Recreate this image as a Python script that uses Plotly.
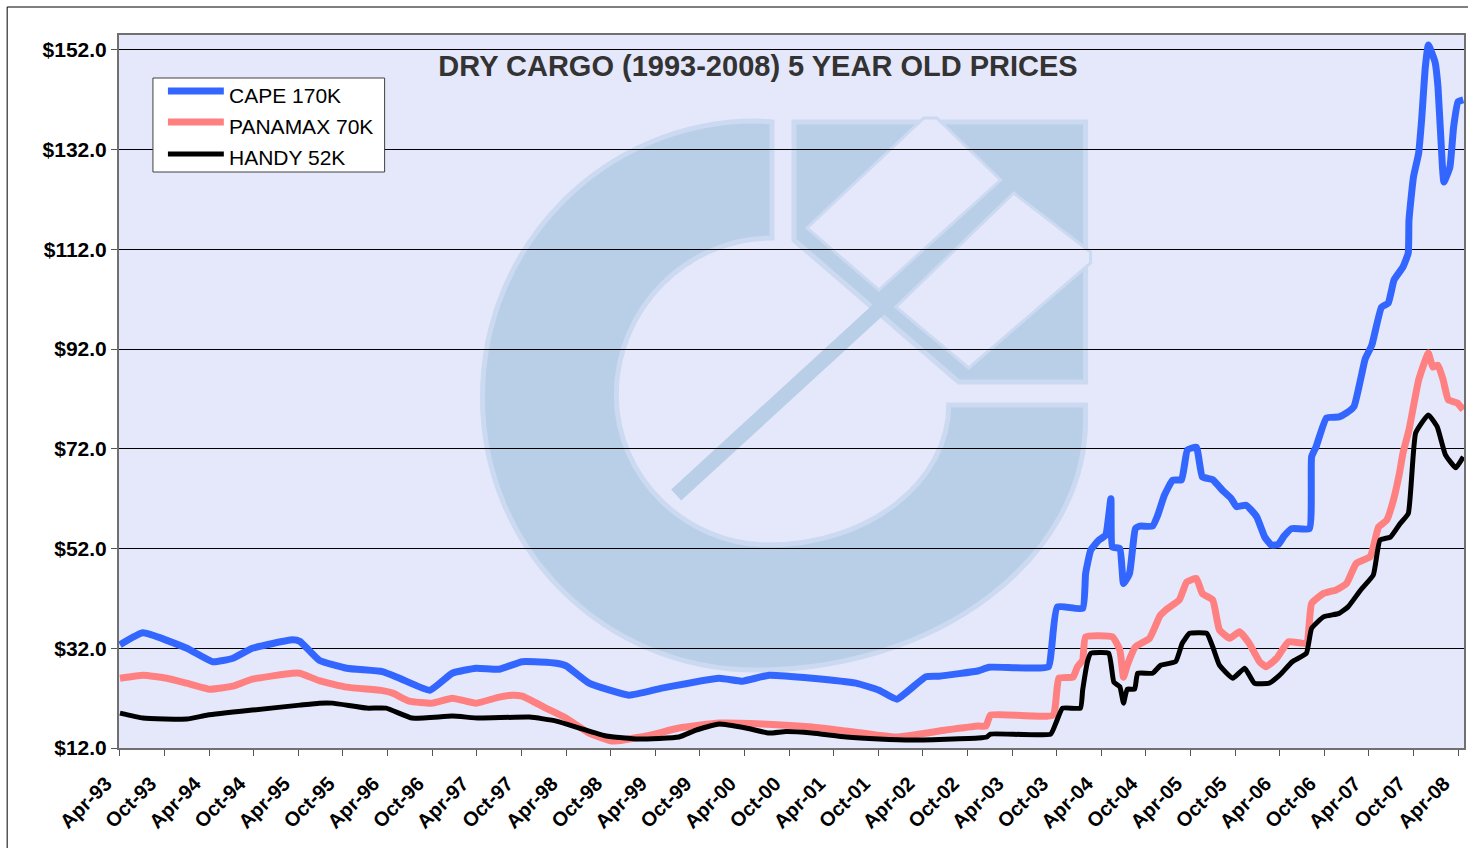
import plotly.graph_objects as go

# ---------------- DATA (months since Apr-93, price in $ million) ----------------
cape_months = [0, 3.1, 9.0, 12.5, 15.2, 17.8, 23.2, 24.2, 26.8, 30.5, 35.3, 37.6, 41.7, 44.7, 47.9,
               51.0, 54.1, 58.7, 60.0, 63.1, 68.5, 72.9, 80.6, 83.7, 87.3, 93.1, 99.0, 102.1, 104.5,
               108.4, 110.2, 115.5, 116.9, 124.9, 125.3, 126.1, 129.5, 129.9, 130.6, 131.7, 132.6,
               133.3, 133.5, 134.5, 135.0, 135.8, 136.2, 136.6, 137.2, 138.9, 139.6, 140.5, 141.6,
               142.8, 143.6, 144.8, 145.6, 147.0, 148.3, 149.5, 150.2, 151.5, 152.9, 154.0, 154.9,
               155.8, 156.6, 157.6, 160.0, 160.3, 160.9, 162.3, 164.0, 165.0, 166.0, 166.9, 167.5,
               168.4, 169.7, 170.6, 171.4, 172.6, 173.3, 173.4, 174.0, 174.7, 175.1, 175.6, 176.0,
               176.9, 177.3, 177.9, 178.1, 178.9, 179.4, 180.0, 180.7]
cape_prices = [32.7, 35.1, 32.0, 29.3, 30.0, 32.0, 33.7, 33.4, 29.6, 28.0, 27.3, 26.0, 23.6, 27.0, 28.0,
               27.8, 29.3, 29.0, 28.5, 25.0, 22.6, 24.0, 26.0, 25.4, 26.6, 26.0, 25.0, 23.6, 21.8,
               26.3, 26.4, 27.5, 28.2, 28.3, 31.7, 40.3, 40.0, 47.0, 51.7, 53.7, 54.7,
               62.0, 52.3, 52.0, 45.0, 47.0, 51.7, 56.0, 56.5, 56.5, 58.7, 62.7, 65.7,
               65.8, 71.8, 72.3, 66.4, 65.8, 63.7, 62.0, 60.4, 60.7, 58.4, 54.3, 52.7,
               52.8, 54.5, 56.0, 56.0, 70.4, 72.4, 78.2, 78.4, 79.2, 80.5, 86.0, 90.0,
               92.8, 100.4, 101.2, 105.9, 108.5, 111.3, 117.9, 126.5, 131.3, 138.0, 148.6, 153.0,
               149.6, 144.6, 128.5, 125.5, 128.5, 136.5, 141.6, 142.0]

panamax_months = [0, 3.1, 6.3, 9.0, 12.1, 15.2, 17.8, 23.2, 24.2, 26.8, 30.5, 35.3, 36.7, 38.9, 42.0,
                  44.7, 47.9, 51.0, 52.8, 54.1, 57.3, 60.0, 63.1, 66.2, 70.8, 75.2, 80.6, 86.4, 93.1,
                  97.7, 104.4, 111.1, 115.5, 116.5, 117.1, 125.5, 126.3, 128.2, 128.8, 129.5, 129.9,
                  133.5, 134.5, 135.0, 135.5, 136.6, 138.5, 139.9, 140.7, 142.5, 143.5, 144.8, 145.6,
                  147.0, 147.9, 149.3, 150.6, 151.9, 153.3, 154.2, 155.6, 157.2, 159.6, 160.3, 161.9,
                  163.6, 165.0, 166.3, 168.2, 169.3, 170.4, 171.3, 172.1, 172.6, 173.4, 174.7, 176.0,
                  176.6, 177.3, 178.0, 178.7, 179.9, 180.7]
panamax_prices = [26.0, 26.6, 26.0, 25.0, 23.8, 24.4, 25.8, 27.0, 27.0, 25.5, 24.2, 23.5, 23.0, 21.4, 21.0,
                  22.0, 21.0, 22.2, 22.6, 22.4, 20.0, 18.0, 15.0, 13.4, 14.4, 16.0, 17.0, 16.8, 16.2,
                  15.4, 14.2, 15.6, 16.4, 16.4, 18.6, 18.6, 26.0, 26.2, 28.3, 29.6, 34.3,
                  34.3, 31.7, 26.2, 28.6, 32.3, 34.0, 38.5, 39.7, 41.7, 45.3, 46.0, 43.0,
                  41.7, 35.7, 34.0, 35.3, 33.0, 29.3, 28.3, 30.0, 33.3, 33.0, 41.0, 43.0,
                  43.7, 45.0, 49.0, 50.4, 56.3, 57.7, 61.7, 67.0, 71.2, 75.8, 85.8, 91.2,
                  88.4, 88.8, 85.8, 81.8, 81.2, 79.8]

handy_months = [0, 3.1, 9.0, 11.8, 17.8, 24.2, 26.8, 28.6, 33.2, 35.8, 39.3, 44.7, 48.3, 55.1, 58.7,
                61.8, 65.4, 69.8, 75.2, 77.5, 80.6, 84.2, 87.3, 89.6, 93.1, 97.7, 102.1, 106.5, 115.5,
                116.6, 117.1, 125.2, 125.9, 126.8, 129.2, 129.5, 130.2, 130.6, 133.0, 133.7, 134.5,
                135.0, 135.5, 136.5, 136.9, 138.9, 140.0, 142.0, 142.9, 143.9, 146.2, 147.0, 147.9,
                149.7, 151.3, 152.6, 154.6, 156.0, 157.7, 159.6, 160.3, 161.9, 164.0, 165.2, 166.9,
                168.6, 169.5, 170.9, 172.2, 173.3, 174.3, 176.0, 177.2, 178.3, 179.7, 180.7]
handy_prices = [19.0, 18.0, 17.8, 18.6, 19.6, 20.6, 21.0, 21.0, 20.0, 20.0, 18.0, 18.4, 18.0, 18.2, 17.4,
                16.0, 14.4, 13.8, 14.2, 15.6, 16.8, 16.0, 15.0, 15.3, 15.0, 14.2, 13.8, 13.6, 14.0,
                14.2, 14.8, 14.8, 17.0, 20.0, 20.0, 23.6, 29.6, 31.0, 31.0, 25.2, 24.3,
                21.0, 23.8, 23.8, 27.0, 27.0, 28.6, 29.3, 33.0, 35.0, 35.0, 32.3, 28.6,
                26.0, 28.0, 25.0, 25.0, 26.6, 29.3, 31.0, 36.0, 38.3, 39.0, 40.3, 43.7,
                46.7, 53.7, 54.3, 57.0, 59.0, 75.2, 78.8, 76.4, 70.8, 68.2, 70.4]

series_names = ["CAPE 170K", "PANAMAX 70K", "HANDY 52K"]
series_colors = ["#3366FF", "#FF8080", "#000000"]

x_tick_months = list(range(0, 181, 6))
x_tick_labels = ["Apr-93", "Oct-93", "Apr-94", "Oct-94", "Apr-95", "Oct-95", "Apr-96", "Oct-96",
                 "Apr-97", "Oct-97", "Apr-98", "Oct-98", "Apr-99", "Oct-99", "Apr-00", "Oct-00",
                 "Apr-01", "Oct-01", "Apr-02", "Oct-02", "Apr-03", "Oct-03", "Apr-04", "Oct-04",
                 "Apr-05", "Oct-05", "Apr-06", "Oct-06", "Apr-07", "Oct-07", "Apr-08"]
y_ticks = [12, 32, 52, 72, 92, 112, 132, 152]
y_tick_labels = ["$12.0", "$32.0", "$52.0", "$72.0", "$92.0", "$112.0", "$132.0", "$152.0"]

title_text = "DRY CARGO (1993-2008) 5 YEAR OLD PRICES"

# ---------------- LAYOUT GEOMETRY (pixels) ----------------
W, H = 1468, 848
PL, PR, PT, PB = 119, 1466, 35, 748
PLOT_BG = "#E5E8FB"
LOGO = "#B8CFE7"
LOGO_EDGE = "#CBD9F1"
SANS = "Liberation Sans, Arial, sans-serif"

fig = go.Figure()

widths = [7, 7, 5]
for months, prices, name, color, w in zip(
        [cape_months, panamax_months, handy_months],
        [cape_prices, panamax_prices, handy_prices],
        series_names, series_colors, widths):
    fig.add_trace(go.Scatter(x=months, y=prices, name=name, mode="lines",
                             line=dict(color=color, width=w, shape="spline", smoothing=0.4),
                             showlegend=False, hoverinfo="x+y+name"))

# helper overlay axes in pixel units for decorations
fig.add_trace(go.Scatter(x=[None], y=[None], xaxis="x2", yaxis="y2", showlegend=False,
                         hoverinfo="skip"))

shapes = []
# watermark logo: "C" ring
ring = ("M 773,122 L 757,121 C 605,121 483,245 483,397 C 483,549 605,670 757,670 "
        "C 939,670 1087,558 1087,420 L 1087,405 L 950,405 C 950,482 869,545 770,545 "
        "C 686,545 617,477 617,395 C 617,309 687,238 773,238 Z")
shapes.append(dict(type="path", path=ring, xref="x2", yref="y2", layer="below",
                   fillcolor=LOGO, line=dict(color=LOGO_EDGE, width=5)))
# square with cut corner
shapes.append(dict(type="path", path="M 795,122 L 1087,122 L 1087,382 L 960,382 L 795,240 Z",
                   xref="x2", yref="y2", layer="below", fillcolor=LOGO,
                   line=dict(color=LOGO_EDGE, width=5)))
# diagonal bar
shapes.append(dict(type="line", x0=677, y0=495, x1=890, y1=300, xref="x2", yref="y2",
                   layer="below", line=dict(color=LOGO, width=15)))
# light cut-outs
shapes.append(dict(type="path", path="M 925,118 L 938,118 L 1002,180 L 880,290 L 808,228 Z",
                   xref="x2", yref="y2", layer="below", fillcolor=PLOT_BG,
                   line=dict(color=LOGO_EDGE, width=3)))
shapes.append(dict(type="path", path="M 1015,193 L 1092,252 L 1092,263 L 970,368 L 897,307 Z",
                   xref="x2", yref="y2", layer="below", fillcolor=PLOT_BG,
                   line=dict(color=LOGO_EDGE, width=3)))

# legend box
shapes.append(dict(type="rect", x0=153, y0=78, x1=385, y1=172, xref="x2", yref="y2",
                   layer="above", fillcolor="white", line=dict(color="#404040", width=1)))
leg_y = [91, 122, 154]
for yy, color, w in zip(leg_y, series_colors, widths):
    shapes.append(dict(type="line", x0=168, x1=224, y0=yy, y1=yy, xref="x2", yref="y2",
                       layer="above", line=dict(color=color, width=w)))


# outer chart frame
def px_x(p):
    return (p - PL) / (PR - PL)


def px_y(p):
    return (PB - p) / (PB - PT)


shapes.append(dict(type="rect", xref="paper", yref="paper", x0=px_x(7), x1=px_x(1480),
                   y0=px_y(870), y1=px_y(7), line=dict(color="black", width=1),
                   fillcolor="rgba(0,0,0,0)", layer="below"))

annotations = []
for yy, name in zip([95, 126, 157], series_names):
    annotations.append(dict(x=227, y=yy, xref="x2", yref="y2", text=name, showarrow=False,
                            xanchor="left", yanchor="middle",
                            font=dict(family=SANS, size=21, color="black")))

fig.update_layout(
    width=W, height=H,
    margin=dict(l=PL, r=W - PR, t=PT, b=H - PB, pad=0),
    paper_bgcolor="white", plot_bgcolor=PLOT_BG,
    title=dict(text=title_text, x=758 / W, y=1 - 66 / H, xanchor="center", yanchor="middle",
               xref="container", yref="container",
               font=dict(family=SANS, size=29, color="#333333", weight="bold")),
    xaxis=dict(range=[-0.13, 180.8], tickvals=x_tick_months, ticktext=x_tick_labels,
               tickangle=-45, showgrid=False, zeroline=False,
               ticks="outside", ticklen=6, tickcolor="#555555",
               ticklabelshift=-14, ticklabelstandoff=8,
               showline=True, linecolor="#707070", linewidth=2, mirror=True,
               tickfont=dict(family=SANS, size=20, color="black", weight="bold")),
    yaxis=dict(range=[12, 155], tickvals=y_ticks, ticktext=y_tick_labels,
               showgrid=True, gridcolor="black", gridwidth=1, zeroline=False,
               ticks="outside", ticklen=6, tickcolor="#555555",
               showline=True, linecolor="#707070", linewidth=2, mirror=True,
               tickfont=dict(family=SANS, size=21, color="black", weight="bold")),
    xaxis2=dict(range=[PL, PR], overlaying="x", visible=False, showgrid=False),
    yaxis2=dict(range=[PB, PT], overlaying="y", visible=False, showgrid=False),
    shapes=shapes,
    annotations=annotations,
    showlegend=False,
)

fig.write_html("out.html", config={"displayModeBar": False},
               post_script="document.body.style.margin='0px';")
